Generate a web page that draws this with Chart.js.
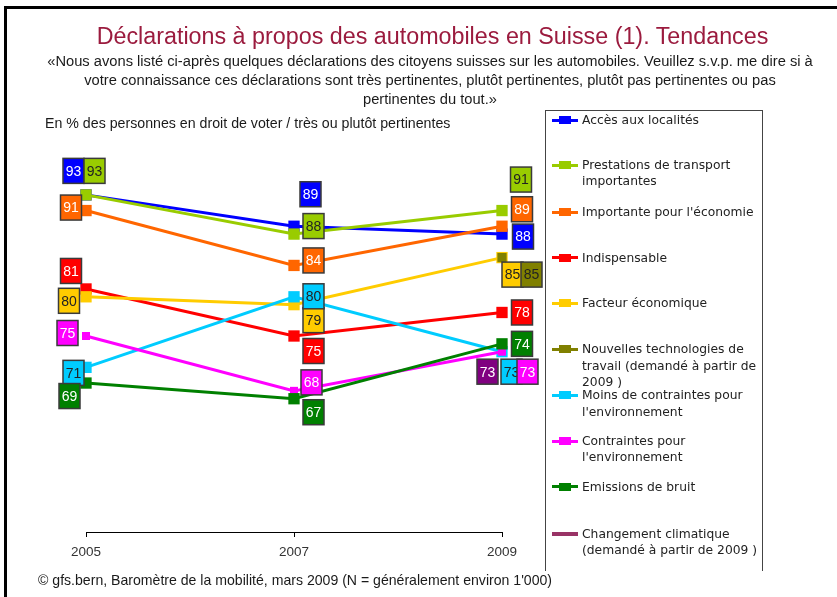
<!DOCTYPE html>
<html><head><meta charset="utf-8">
<script src="https://cdn.jsdelivr.net/npm/chart.js@4.4.0/dist/chart.umd.min.js"></script>
<style>
html,body{margin:0;padding:0;background:#fff;}
#wrap{position:relative;width:837px;height:597px;overflow:hidden;font-family:"Liberation Sans",Arial,sans-serif;color:#1a1a1a;}
#c{position:absolute;left:0;top:0;}
.t{position:absolute;white-space:nowrap;}
#frame{position:absolute;left:4px;top:6px;width:900px;height:700px;border-top:3px solid #000;border-left:3px solid #000;}
#title{left:0;width:865px;text-align:center;top:25px;font-size:23.3px;line-height:23.3px;color:#9B1B3E;}
#sub{left:0;width:860px;text-align:center;top:51.6px;font-size:14.7px;line-height:19px;}
#unit{left:45px;top:116px;font-size:14.2px;line-height:14.2px;}
#foot{left:38px;top:572.6px;font-size:14.1px;line-height:14.1px;}
#legend{position:absolute;left:545px;top:110px;width:216px;height:460px;border-top:1px solid #444;border-left:1px solid #444;border-right:1px solid #444;}
.li{position:absolute;left:36px;width:180px;font-family:"DejaVu Sans",sans-serif;font-size:12.3px;line-height:16.4px;color:#222;}
.ln{position:absolute;height:3px;width:26px;left:6px;}
.sq{position:absolute;width:12px;height:8px;left:13px;}
</style></head><body>
<div id="wrap">
<canvas id="c" width="837" height="597"></canvas>
<div id="frame"></div>
<div id="title" class="t">Déclarations à propos des automobiles en Suisse (1). Tendances</div>
<div id="sub" class="t">«Nous avons listé ci-après quelques déclarations des citoyens suisses sur les automobiles. Veuillez s.v.p. me dire si à<br>votre connaissance ces déclarations sont très pertinentes, plutôt pertinentes, plutôt pas pertinentes ou pas<br>pertinentes du tout.»</div>
<div id="unit" class="t">En % des personnes en droit de voter / très ou plutôt pertinentes</div>
<div id="legend"></div>
<div id="foot" class="t">© gfs.bern, Baromètre de la mobilité, mars 2009 (N = généralement environ 1'000)</div>
</div>
<script>
// ---- data ----
const years = ['2005', '2007', '2009'];
const seriesNames = [
  'Accès aux localités',
  'Prestations de transport importantes',
  "Importante pour l'économie",
  'Indispensable',
  'Facteur économique',
  'Nouvelles technologies de travail (demandé à partir de 2009 )',
  "Moins de contraintes pour l'environnement",
  "Contraintes pour l'environnement",
  'Emissions de bruit',
  'Changement climatique (demandé à partir de 2009 )'
];
const accesLocalites       = [93, 89, 88];
const prestationsTransport = [93, 88, 91];
const importanteEconomie   = [91, 84, 89];
const indispensable        = [81, 75, 78];
const facteurEconomique    = [80, 79, 85];
const nouvellesTechno      = [null, null, 85];
const moinsContraintes     = [71, 80, 73];
const contraintesEnv       = [75, 68, 73];
const emissionsBruit       = [69, 67, 74];
const changementClimat     = [null, null, 73];

const seriesValues = [accesLocalites, prestationsTransport, importanteEconomie, indispensable,
  facteurEconomique, nouvellesTechno, moinsContraintes, contraintesEnv, emissionsBruit, changementClimat];

// ---- styles ----
const lineColors = ['#0000FF','#99CC00','#FF6600','#FF0000','#FFCC00','#808000','#00CCFF','#FF00FF','#008000','#993366'];
const boxColors  = ['#0000FF','#99CC00','#FF6600','#FF0000','#FFCC00','#808000','#00CCFF','#FF00FF','#008000','#800080'];
const boxText    = ['#fff','#222','#fff','#fff','#222','#222','#222','#fff','#fff','#fff'];
const pointSizes = [8, 8, 8, 8, 8, 6.5, 8, 5.7, 8, 0];
// label box offsets (dx,dy) from each point, per series and year
const boxOffsets = [
  [[-12.5,-24],[16.5,-32],[21,2.5]],
  [[8.5,-24],[19.5,-8],[19,-31]],
  [[-15,-3],[19.5,-5],[20,-17]],
  [[-15,-18],[19.5,15],[20,0]],
  [[-17,4],[19.5,15.5],[10.5,17]],
  [null,null,[29.5,17]],
  [[-12.5,5.5],[19.5,-0.5],[9.5,20]],
  [[-18.5,-3],[17.5,-8.5],[25.5,20]],
  [[-16.5,13],[19.5,13.5],[20,0]],
  [null,null,[-14.5,20]]
];
const legendY = [119.3, 164, 211, 256.7, 302, 348.3, 394.3, 440, 485.7, 532.7];

const n = seriesNames.length;
const datasets = seriesNames.map((name, i) => ({
  label: name,
  data: seriesValues[i],
  borderColor: lineColors[i],
  backgroundColor: lineColors[i],
  borderWidth: 3,
  pointStyle: 'rect',
  pointRadius: pointSizes[i],
  pointBackgroundColor: lineColors[i],
  pointBorderColor: lineColors[i],
  pointBorderWidth: 0,
  tension: 0,
  clip: false,
  order: n - i
}));

const boxPlugin = {
  id: 'valueBoxes',
  afterDatasetsDraw(chart) {
    const ctx = chart.ctx;
    ctx.save();
    ctx.font = '14px "Liberation Sans", Arial, sans-serif';
    ctx.textAlign = 'center';
    ctx.textBaseline = 'middle';
    chart.data.datasets.forEach((ds, i) => {
      const meta = chart.getDatasetMeta(i);
      ds.data.forEach((v, j) => {
        if (v === null || v === undefined) return;
        const pt = meta.data[j];
        const off = boxOffsets[i][j];
        if (!pt || !off) return;
        const cx = pt.x + off[0], cy = pt.y + off[1];
        const w = 21, h = 25;
        ctx.fillStyle = boxColors[i];
        ctx.fillRect(cx - w / 2, cy - h / 2, w, h);
        ctx.strokeStyle = '#3a3a3a';
        ctx.lineWidth = 1.5;
        ctx.strokeRect(cx - w / 2, cy - h / 2, w, h);
        ctx.fillStyle = boxText[i];
        ctx.fillText(String(v), cx, cy + 1);
      });
    });
    ctx.restore();
  }
};

const chart = new Chart(document.getElementById('c'), {
  type: 'line',
  data: { labels: years, datasets },
  options: {
    responsive: false,
    animation: false,
    events: [],
    layout: { padding: { left: 86, right: 335, top: 140, bottom: 0 } },
    plugins: { legend: { display: false }, title: { display: false }, tooltip: { enabled: false } },
    scales: {
      x: {
        type: 'category',
        offset: false,
        grid: { display: true, drawOnChartArea: false, drawTicks: true, tickLength: 5, color: '#000', lineWidth: 1 },
        border: { display: true, color: '#000', width: 1 },
        ticks: { color: '#333', font: { family: 'Liberation Sans', size: 13.5 }, padding: 7, maxRotation: 0, autoSkip: false },
        afterFit: s => { s.height = 65; }
      },
      y: { display: false, min: 50, max: 100 }
    }
  },
  plugins: [boxPlugin]
});

// HTML legend from chart datasets
const leg = document.getElementById('legend');
chart.data.datasets.forEach((ds, i) => {
  const y = legendY[i] - 110;
  const ln = document.createElement('div');
  ln.className = 'ln';
  ln.style.background = ds.borderColor;
  ln.style.top = (y - (i === 9 ? 2 : 1.5)) + 'px';
  if (i === 9) ln.style.height = '4px';
  leg.appendChild(ln);
  if (pointSizes[i] > 0) {
    const sq = document.createElement('div');
    sq.className = 'sq';
    sq.style.background = ds.borderColor;
    sq.style.top = (y - 4) + 'px';
    leg.appendChild(sq);
  }
  const tx = document.createElement('div');
  tx.className = 'li';
  tx.style.top = (y - 8.2) + 'px';
  tx.textContent = ds.label;
  leg.appendChild(tx);
});
</script>
</body></html>
